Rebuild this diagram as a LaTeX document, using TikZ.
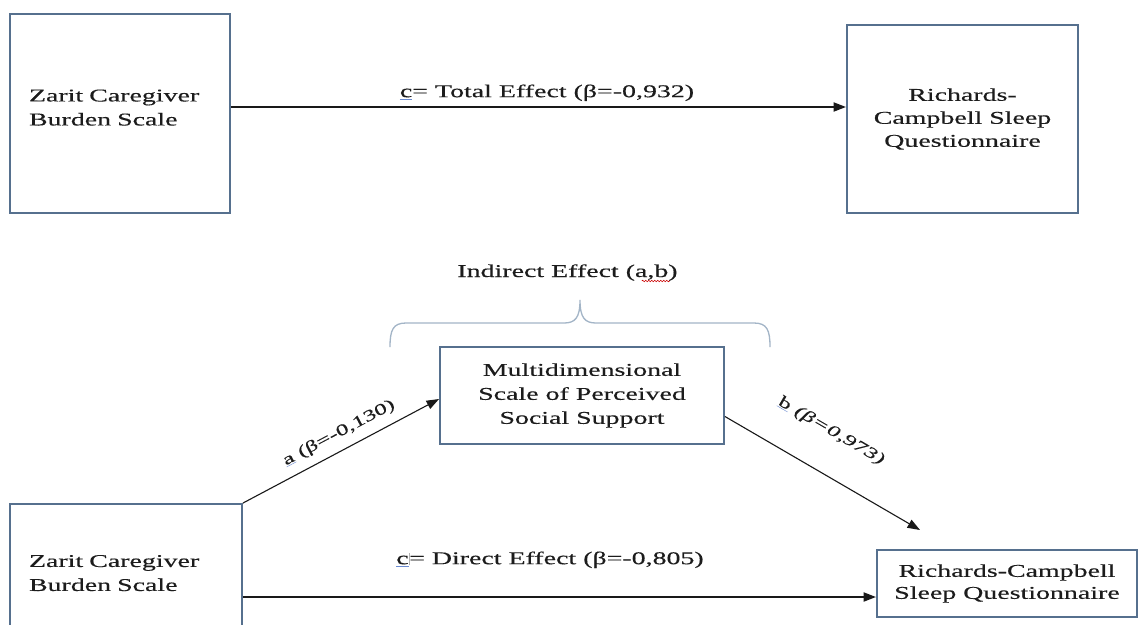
\documentclass[tikz,border=0pt]{standalone}
\usepackage{fontspec}
\setmainfont[FakeStretch=1.55,FakeBold=0.3]{Liberation Serif}
\usetikzlibrary{arrows.meta,decorations.pathmorphing}
\definecolor{txt}{HTML}{1C1C1C}
\definecolor{boxc}{HTML}{56708E}
\definecolor{bracec}{HTML}{A3B5C7}
\definecolor{ulblue}{HTML}{6A8AD0}
\newcommand{\blueul}[1]{{\color{ulblue}\underline{\color{txt}#1}}}
\begin{document}
\begin{tikzpicture}[x=1pt,y=-1pt,
  box/.style={draw=boxc,line width=1.9pt,text=txt,font=\fontsize{18}{24}\selectfont,inner sep=0pt},
  lbl/.style={text=txt,font=\fontsize{18}{24}\selectfont,inner sep=0pt},
  slbl/.style={text=txt,font=\fontsize{16}{20}\selectfont,inner sep=0pt},
  arr/.style={draw=black!90,line width=2pt,-{Triangle[length=12.5pt,width=9pt]}},
  thinarr/.style={draw=black!90,line width=1.1pt,-{Triangle[length=12.5pt,width=9pt]}}]
\clip (0,0) rectangle (1139,624);
\fill[white] (0,0) rectangle (1139,624);

% top model
\node[box, minimum width=220pt, minimum height=199pt, text width=182pt, align=left] (zt) at (120,113.5)
  {Zarit Caregiver\\Burden Scale\rule[-12pt]{0pt}{0pt}};
\node[box, minimum width=231pt, minimum height=188pt, align=center, font=\fontsize{18}{23}\selectfont] (rt) at (962.5,119)
  {Richards-\\Campbell Sleep\\Questionnaire};
\draw[arr] ([yshift=6.5pt]zt.east) coordinate (t1) -- (t1 -| rt.west)
  node[lbl, midway, above=5pt, xshift=8.5pt] {\blueul{c}= Total Effect (β=-0,932)};

% bottom model
\node[lbl, anchor=base] (ind) at (567.5,277) {Indirect Effect (a,b)};
\draw[red!80!black, line width=0.6pt, decorate, decoration={snake,amplitude=0.8pt,segment length=3pt}]
  ([xshift=-36pt,yshift=-4pt]ind.base east) -- ([xshift=-8pt,yshift=-4pt]ind.base east);
\draw[bracec, line width=1.3pt]
  (390,347) .. controls (390,330) and (393,323) .. (406,323) -- (564,323)
  .. controls (575,323) and (580,318) .. (580,300)
  .. controls (580,318) and (585,323) .. (596,323) -- (754,323)
  .. controls (767,323) and (770,330) .. (770,347);

\node[box, minimum width=284pt, minimum height=97pt, align=center] (mm) at (582,395.5)
  {Multidimensional\\Scale of Perceived\\Social Support};
\node[box, minimum width=232pt, minimum height=144pt, text width=194pt, align=left] (zb) at (126,576)
  {Zarit Caregiver\\Burden Scale\rule[-6pt]{0pt}{0pt}};
\node[box, minimum width=260pt, minimum height=67pt, align=center, font=\fontsize{18}{22}\selectfont] (rb) at (1007,583.5)
  {Richards-Campbell\\Sleep Questionnaire};
\coordinate (bt) at (920,530);

\draw[thinarr] (zb.north east) -- ([yshift=-3.5pt]mm.west)
  node[slbl, pos=0.53, sloped, above=9pt] {\blueul{a} (β=-0,130)};
\draw[thinarr] ([yshift=-21pt]mm.east) -- (bt)
  node[slbl, pos=0.44, sloped, above=33pt] {\blueul{b} \textit{(β=0,973)}};
\draw[arr] ([yshift=-21pt]zb.east) coordinate (d1) -- (d1 -| rb.west)
  node[lbl, midway, above=28pt, xshift=-9.5pt] {\blueul{c}\textcolor{gray!60}{\rule[-1pt]{0.5pt}{12pt}}= Direct Effect (β=-0,805)};
\end{tikzpicture}
\end{document}
